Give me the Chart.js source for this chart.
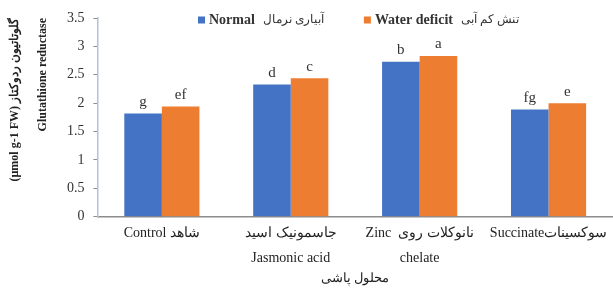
<!DOCTYPE html>
<html>
<head>
<meta charset="utf-8">
<script src="https://cdn.jsdelivr.net/npm/chart.js@4"></script>
<style>
    html, body { margin: 0; padding: 0; background: #fff; }
    #wrap { width: 613px; height: 290px; }
</style>
</head>
<body>
<div id="wrap"><canvas id="grChart"></canvas></div>
<script>
// data
const categories = [
    ['Control شاهد'],
    ['جاسمونیک اسید', 'Jasmonic acid'],
    ['Zinc  نانوکلات روی', 'chelate'],
    ['Succinateسوکسینات']
];
const normalValues = [1.82, 2.33, 2.73, 1.89];
const deficitValues = [1.94, 2.44, 2.83, 2.00];
const normalLetters = ['g', 'd', 'b', 'fg'];
const deficitLetters = ['ef', 'c', 'a', 'e'];
const yTicks = [0, 0.5, 1, 1.5, 2, 2.5, 3, 3.5];

const serif = '"Liberation Serif", "DejaVu Serif", serif';

// letters above each bar
const letterPlugin = {
    id: 'letters',
    afterDatasetsDraw(chart) {
        const ctx = chart.ctx;
        ctx.save();
        ctx.font = '15px ' + serif;
        ctx.fillStyle = '#333';
        ctx.textAlign = 'center';
        ctx.textBaseline = 'bottom';
        chart.data.datasets.forEach((ds, d) => {
            chart.getDatasetMeta(d).data.forEach((bar, i) => {
                ctx.fillText(ds.letters[i], bar.x, bar.y - 4);
            });
        });
        ctx.restore();
    }
};

// legend: bold english + plain persian
const legendPlugin = {
    id: 'mixedLegend',
    afterDraw(chart) {
        const ctx = chart.ctx;
        let x = 198;
        const y = 20;
        ctx.save();
        ctx.textBaseline = 'middle';
        chart.data.datasets.forEach((ds) => {
            ctx.fillStyle = ds.backgroundColor;
            ctx.fillRect(x, y - 3.5, 7, 7);
            x += 11;
            ctx.fillStyle = '#333';
            ctx.font = 'bold 14px ' + serif;
            ctx.fillText(ds.label, x, y);
            x += ctx.measureText(ds.label).width + 8;
            ctx.font = '12px ' + serif;
            ctx.fillText(ds.faLabel, x, y);
            x += ctx.measureText(ds.faLabel).width + 40;
        });
        ctx.restore();
    }
};

const grChart = new Chart('grChart', {
    type: 'bar',
    data: {
        labels: categories,
        datasets: [
            {
                label: 'Normal',
                faLabel: 'آبیاری نرمال',
                data: normalValues,
                letters: normalLetters,
                backgroundColor: '#4472C4'
            },
            {
                label: 'Water deficit',
                faLabel: 'تنش کم آبی',
                data: deficitValues,
                letters: deficitLetters,
                backgroundColor: '#ED7D31'
            }
        ]
    },
    options: {
        responsive: true,
        maintainAspectRatio: false,
        animation: false,
        categoryPercentage: 0.583,
        barPercentage: 1,
        layout: {
            padding: { top: 18, right: -4, bottom: 0, left: 0 }
        },
        plugins: {
            legend: { display: false },
            tooltip: { enabled: false }
        },
        scales: {
            x: {
                grid: { display: false, drawTicks: false },
                border: { color: '#8C8C8C', width: 1.5 },
                ticks: {
                    padding: 4,
                    color: '#222',
                    font: { family: serif, size: 14, lineHeight: 1.8 }
                },
                title: {
                    display: true,
                    text: 'محلول پاشی',
                    color: '#222',
                    padding: { top: -5, bottom: 3 },
                    font: { family: serif, size: 13, lineHeight: 1.3 }
                }
            },
            y: {
                min: 0,
                max: 3.5,
                afterBuildTicks(scale) {
                    scale.ticks = yTicks.map(v => ({ value: v }));
                },
                grid: {
                    drawOnChartArea: false,
                    drawTicks: true,
                    tickLength: 4,
                    color: '#8C8C8C'
                },
                border: { color: '#A9C4E4', width: 1.5 },
                ticks: {
                    padding: 9,
                    color: '#333',
                    font: { family: serif, size: 14 },
                    callback: (value) => String(value)
                },
                title: {
                    display: true,
                    align: 'end',
                    text: ['(µmol g-1 FW) گلوتاتیون ردوکتاز', 'Glutathione reductase'],
                    color: '#222',
                    padding: { top: 1, bottom: 1 },
                    font: { family: serif, size: 12, weight: 'bold', lineHeight: 2.33 }
                }
            }
        }
    },
    plugins: [letterPlugin, legendPlugin]
});
</script>
</body>
</html>
